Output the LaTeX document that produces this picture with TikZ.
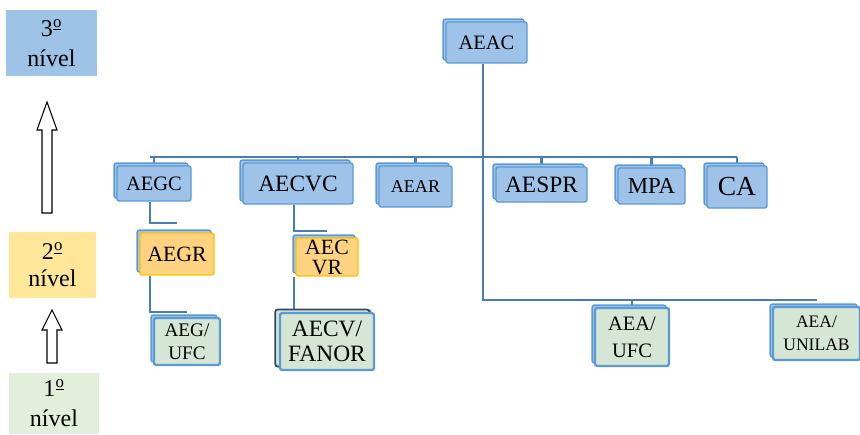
\documentclass[tikz,border=0pt]{standalone}
\usepackage{fontspec}
\setmainfont{Liberation Serif}
\usetikzlibrary{shadows,backgrounds}

\definecolor{boxblue}{HTML}{9FC2E8}
\definecolor{edgeblue}{HTML}{5B9BD5}
\definecolor{linkblue}{HTML}{4A7DB5}
\definecolor{boxorange}{HTML}{FFD27F}
\definecolor{edgeorange}{HTML}{FFC000}
\definecolor{boxgreen}{HTML}{D5E6D5}
\definecolor{lvlblue}{HTML}{9DC3E6}
\definecolor{lvlyellow}{HTML}{FFE699}
\definecolor{lvlgreen}{HTML}{E2EFDA}
\definecolor{darkedge}{HTML}{2F4A68}

\newcommand{\ordo}{\textsuperscript{\underline{o}}}

\begin{document}
\begin{tikzpicture}[x=0.03cm,y=-0.03cm,
    unit/.style={draw=edgeblue,fill=boxblue,line width=1.2pt,rounded corners=2pt,inner sep=0pt,align=center,
      general shadow={shadow xshift=-2.5pt,shadow yshift=2.5pt,fill=boxblue,draw=edgeblue,line width=1.2pt}},
    orangeunit/.style={unit,draw=edgeorange,fill=boxorange},
    greenunit/.style={unit,fill=boxgreen,line width=2pt},
    link/.style={draw=linkblue,line width=2.4pt},
    lvl/.style={inner sep=0pt,align=center,font=\fontsize{20.5}{26}\selectfont},
    fbig/.style={font=\fontsize{20}{21}\selectfont},
    fmid/.style={font=\fontsize{17.5}{22}\selectfont},
    fsmall/.style={font=\fontsize{18.6}{17}\selectfont},
    ftiny/.style={font=\fontsize{15}{19.5}\selectfont}]
  \useasboundingbox (0,0) rectangle (860,434);

  % niveis
  \node[lvl,fill=lvlblue,minimum width=2.73cm,minimum height=1.98cm] (lvl3) at (51.5,43) {3\ordo\\nível};
  \node[lvl,fill=lvlyellow,minimum width=2.61cm,minimum height=1.98cm,font=\fontsize{20.5}{23}\selectfont] (lvl2) at (52.5,265) {2\ordo\\nível};
  \node[lvl,fill=lvlgreen,minimum width=2.7cm,minimum height=1.83cm] (lvl1) at (54,403.5) {1\ordo\\nível};
  \draw[line width=0.9pt,fill=white] (42,213) -- (52,213) -- (52,130) -- (57,130) -- (47,102) -- (37,130) -- (42,130) -- cycle;
  \draw[line width=0.9pt,fill=white] (47,363) -- (57,363) -- (57,330) -- (62,330) -- (52,310) -- (42,330) -- (47,330) -- cycle;

  % organograma
  \node[unit,fmid,minimum width=2.43cm,minimum height=1.23cm] (aeac) at (486.5,42.5) {AEAC};
  \node[unit,fmid,minimum width=2.22cm,minimum height=1.05cm] (aegc) at (154,183.5) {AEGC};
  \node[unit,fbig,minimum width=3.3cm,minimum height=1.23cm] (aecvc) at (298,183.5) {AECVC};
  \node[unit,font=\fontsize{15.4}{17}\selectfont,minimum width=2.19cm,minimum height=1.23cm] (aear) at (415.5,186.5) {AEAR};
  \node[unit,fbig,minimum width=2.73cm,minimum height=1.05cm] (aespr) at (541.5,184.5) {AESPR};
  \node[unit,font=\fontsize{19.5}{22}\selectfont,minimum width=2.01cm,minimum height=1.08cm] (mpa) at (651.5,186) {MPA};
  \node[unit,font=\fontsize{23.5}{24}\selectfont,minimum width=1.8cm,minimum height=1.26cm] (ca) at (737,187) {CA};

  \node[orangeunit,fsmall,minimum width=2.22cm,minimum height=1.26cm] (aegr) at (177,254) {AEGR};
  \node[orangeunit,fsmall,minimum width=1.86cm,minimum height=1.14cm] (aecvr) at (327,257) {AEC\\VR};

  \node[greenunit,font=\fontsize{16.4}{20}\selectfont,minimum width=1.98cm,minimum height=1.41cm] (aegufc) at (187,341.5) {AEG/\\UFC};
  \node[greenunit,fbig,minimum width=2.82cm,minimum height=1.71cm,
    general shadow={shadow xshift=-4pt,shadow yshift=3pt,fill=boxgreen,draw=darkedge,line width=1.5pt}] (aecvfanor) at (327,341.5) {AECV/\\FANOR};
  \node[greenunit,font=\fontsize{17.5}{23}\selectfont,minimum width=2.22cm,minimum height=1.74cm] (aeaufc) at (632,337) {AEA/\\UFC};
  \node[greenunit,ftiny,minimum width=2.61cm,minimum height=1.59cm] (aeaunilab) at (816.5,333.5) {AEA/\\UNILAB};

  \coordinate (tk) at (483,300);
  \coordinate (c1) at (150,223);
  \coordinate (c2) at (150,312);
  \coordinate (c3) at (294,231);
  \coordinate (c4) at (294,310);
  \coordinate (bl) at (150,157);

  \begin{scope}[on background layer]
    \draw[link] (aeac.south -| tk) -- (tk) -- (aeaunilab.north |- tk);
    \draw[link] (aeaufc.north) -- (aeaufc.north |- tk);
    \draw[link] (bl) -- (ca.north |- bl);
    \foreach \n in {aegc,aecvc,aear,aespr,mpa,ca}
      \draw[link] (\n.north) -- (\n.north |- bl);
    \draw[link] (aegc.south -| c1) -- (c1) -- (aegr.north |- c1);
    \draw[link] (aegr.south -| c2) -- (c2) -- (aegufc.north |- c2);
    \draw[link] (aecvc.south -| c3) -- (c3) -- (aecvr.north |- c3);
    \draw[link] (aecvr.south -| c4) -- (c4) -- (aecvfanor.north |- c4);
  \end{scope}
\end{tikzpicture}
\end{document}
